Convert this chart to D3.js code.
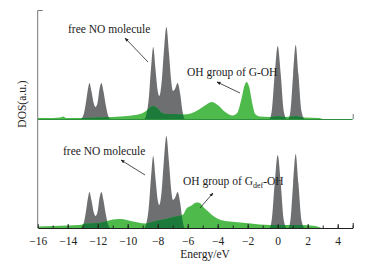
<!DOCTYPE html>
<html lang="en">
<head>
<meta charset="UTF-8" />
<title>DOS</title>
<style>
  body { margin: 0; background: #fff; }
  svg, svg text { font-family: "Liberation Serif", "Times New Roman", Times, "DejaVu Serif", serif !important; }
</style>
</head>
<body>
<div class="chart"></div>
<script src="https://d3js.org/d3.v7.min.js"></script>
<script>
// free NO molecule DOS, [energy eV, DOS a.u.] (same in both panels)
const noDos = [
  [-16, 0], [-13.15, 0], [-12.95, 0.4], [-12.8, 1.5], [-12.65, 3.0], [-12.55, 3.6], [-12.42, 2.8],
  [-12.25, 1.5], [-12.15, 1.2], [-12.0, 1.7], [-11.88, 3.0], [-11.75, 3.6], [-11.62, 2.8],
  [-11.45, 1.3], [-11.3, 0.3], [-11.15, 0],
  [-8.9, 0], [-8.75, 0.5], [-8.6, 2.0], [-8.45, 5.0], [-8.3, 7.2], [-8.15, 5.0], [-8.0, 2.8],
  [-7.9, 2.3], [-7.75, 3.5], [-7.6, 6.5], [-7.42, 9.2], [-7.25, 6.6], [-7.1, 3.8], [-6.98, 2.8],
  [-6.85, 3.0], [-6.67, 3.6], [-6.5, 2.5], [-6.35, 0.8], [-6.2, 0],
  [-0.55, 0], [-0.4, 0.8], [-0.2, 4.5], [0, 7.3], [0.2, 4.5], [0.4, 0.8], [0.6, 0],
  [0.7, 0], [0.85, 0.8], [1.03, 4.5], [1.2, 7.4], [1.38, 4.5], [1.58, 0.8], [1.8, 0], [5, 0]
];

// OH group of G-OH (top panel)
const ohDos = [
  [-16, 0.1], [-15, 0.1], [-14.5, 0.15], [-14.3, 0.25], [-14.1, 0.1], [-13, 0.1], [-12, 0.15],
  [-11, 0.2], [-10, 0.3], [-9.5, 0.4], [-9, 0.6], [-8.7, 0.9], [-8.5, 1.2], [-8.3, 1.3],
  [-8.0, 1.05], [-7.7, 0.6], [-7.3, 0.5], [-6.8, 0.5], [-6.3, 0.45], [-5.8, 0.55], [-5.3, 0.9],
  [-4.9, 1.3], [-4.4, 1.7], [-4.0, 1.4], [-3.5, 0.7], [-3.0, 0.35], [-2.7, 0.6], [-2.45, 1.8],
  [-2.2, 3.4], [-2.07, 3.7], [-1.9, 3.2], [-1.7, 1.6], [-1.5, 0.5], [-1.2, 0.25], [-0.5, 0.2],
  [0, 0.3], [0.5, 0.2], [1.2, 0.3], [1.8, 0.15], [2.8, 0.1], [3, 0], [5, 0]
];

// OH group of Gdef-OH (bottom panel)
const ohDefDos = [
  [-16, 0.15], [-15, 0.2], [-14, 0.25], [-13.2, 0.3], [-12.8, 0.45], [-12, 0.5], [-11.5, 0.65],
  [-11, 0.85], [-10.6, 0.9], [-10.2, 0.85], [-9.8, 0.7], [-9.3, 0.55], [-8.8, 0.45], [-8.4, 0.6],
  [-8, 0.75], [-7.5, 0.9], [-7, 1.1], [-6.5, 1.25], [-6.3, 1.35], [-6.1, 1.9], [-5.8, 2.2],
  [-5.4, 2.55], [-5.2, 2.5], [-4.9, 2.0], [-4.6, 1.6], [-4.2, 1.1], [-3.8, 0.8], [-3.2, 0.65],
  [-2.5, 0.55], [-1.8, 0.45], [-1.2, 0.35], [-0.5, 0.3], [0.5, 0.3], [1.5, 0.3], [2.5, 0.2],
  [3, 0], [5, 0]
];

const xTicks = [-16, -14, -12, -10, -8, -6, -4, -2, 0, 2, 4];
const xMinorTicks = d3.range(-16, 6, 1);

const panels = [
  { base: 119, oh: ohDos, labelNo: "free NO molecule", ohLabel: ["OH group of G-OH"] },
  { base: 228, oh: ohDefDos, labelNo: "free NO molecule", ohLabel: ["OH group of G", "def", "-OH"] }
];

const width = 382, height = 271;
const serif = "Liberation Serif, Times New Roman, serif";
const grey = "#6e6f71", green = "#4dba4b", darkGreen = "#1c7a3a", ink = "#222";

const svg = d3.select(".chart").append("svg")
  .attr("width", width).attr("height", height)
  .attr("font-family", serif);

const defs = svg.append("defs");
defs.append("marker")
  .attr("id", "arrow")
  .attr("viewBox", "0 0 10 10")
  .attr("refX", 9).attr("refY", 5)
  .attr("markerWidth", 5).attr("markerHeight", 5)
  .attr("orient", "auto-start-reverse")
  .append("path").attr("d", "M0,1 L10,5 L0,9 Z").attr("fill", ink);

const x = d3.scaleLinear().domain([-16, 5]).range([37.7, 352.7]);

panels.forEach((p, i) => {
  const y = d3.scaleLinear().domain([0, 10.9]).range([p.base, p.base - 109]);
  const area = d3.area()
    .x(d => x(d[0])).y0(y(0)).y1(d => y(d[1]))
    .curve(d3.curveMonotoneX);

  const g = svg.append("g");
  g.append("clipPath").attr("id", "clipNo" + i)
    .append("path").attr("d", area(noDos));

  g.append("path").attr("d", area(noDos)).attr("fill", grey);
  g.append("path").attr("d", area(p.oh)).attr("fill", green);
  // overlap of the two: dark green
  g.append("path").attr("d", area(p.oh)).attr("fill", darkGreen)
    .attr("clip-path", `url(#clipNo${i})`);

  // x axis line of the panel
  if (i === 0) {
    svg.append("line").attr("x1", x(-16)).attr("x2", x(5))
      .attr("y1", p.base + 0.5).attr("y2", p.base + 0.5)
      .attr("stroke", "#2e8f3e").attr("stroke-width", 1);
    svg.append("line").attr("x1", x(5) + 0.5).attr("x2", x(5) + 0.5)
      .attr("y1", p.base).attr("y2", p.base - 5)
      .attr("stroke", "#777");
  } else {
    const minor = svg.append("g").attr("transform", `translate(0,${p.base})`)
      .call(d3.axisBottom(x).tickValues(xMinorTicks).tickSize(-2.5).tickFormat(""));
    minor.select(".domain").remove();
    minor.selectAll("line").attr("stroke", ink);

    const major = svg.append("g").attr("transform", `translate(0,${p.base})`)
      .call(d3.axisBottom(x).tickValues(xTicks).tickSizeInner(-4).tickSizeOuter(0).tickPadding(9));
    major.attr("font-family", serif);
    major.select(".domain").attr("stroke", ink).attr("stroke-width", 1.2);
    major.selectAll("line").attr("stroke", ink);
    major.selectAll("text").attr("font-size", 11.5).attr("fill", ink);

    svg.append("line").attr("x1", x(5) + 0.5).attr("x2", x(5) + 0.5)
      .attr("y1", p.base).attr("y2", p.base - 5)
      .attr("stroke", ink);
  }

  // labels with arrows
  const lab = i === 0
    ? { no: [68, 33], noA: [[148, 62], [125, 38]], oh: [187, 76], ohA: [[240, 93], [217, 82]] }
    : { no: [63, 155], noA: [[145, 175], [121, 160]], oh: [183, 185], ohA: [[200, 208], [213, 193]] };

  svg.append("text").attr("x", lab.no[0]).attr("y", lab.no[1])
    .attr("font-size", 11.5).attr("fill", ink).text(p.labelNo);
  const t = svg.append("text").attr("x", lab.oh[0]).attr("y", lab.oh[1])
    .attr("font-size", 11.5).attr("fill", ink);
  t.append("tspan").text(p.ohLabel[0]);
  if (p.ohLabel.length > 1) {
    t.append("tspan").attr("dy", 3).attr("font-size", 8).text(p.ohLabel[1]);
    t.append("tspan").attr("dy", -3).text(p.ohLabel[2]);
  }
  [lab.noA, lab.ohA].forEach(a => {
    svg.append("line")
      .attr("x1", a[0][0]).attr("y1", a[0][1])
      .attr("x2", a[1][0]).attr("y2", a[1][1])
      .attr("stroke", ink).attr("stroke-width", 0.8)
      .attr("marker-end", "url(#arrow)");
  });
});

// left axis with top bracket
svg.append("path")
  .attr("d", `M${x(-16) + 5},10.5 H${x(-16)} V228`)
  .attr("fill", "none").attr("stroke", "#777").attr("stroke-width", 1);

svg.append("text")
  .attr("transform", "translate(26,104) rotate(-90)")
  .attr("text-anchor", "middle").attr("font-size", 11.5).attr("fill", ink)
  .text("DOS(a.u.)");

svg.append("text")
  .attr("x", 205).attr("y", 258)
  .attr("text-anchor", "middle").attr("font-size", 11.5).attr("fill", ink)
  .text("Energy/eV");
</script>
</body>
</html>
